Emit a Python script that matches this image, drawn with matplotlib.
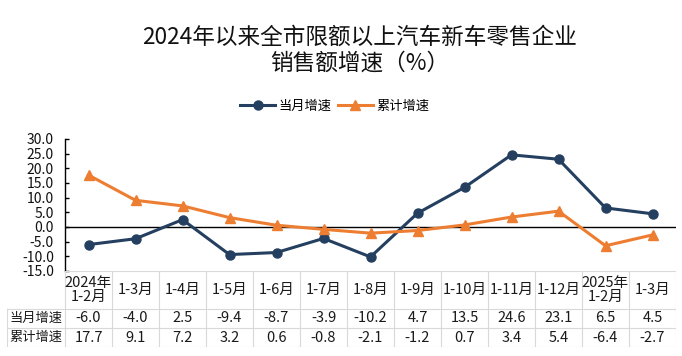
import matplotlib
matplotlib.use("Agg")
import matplotlib.pyplot as plt
from matplotlib.lines import Line2D

plt.rcParams['font.family'] = ['Noto Sans CJK SC', 'DejaVu Sans']
plt.rcParams['axes.unicode_minus'] = False

categories = ["2024年\n1-2月", "1-3月", "1-4月", "1-5月", "1-6月", "1-7月", "1-8月",
              "1-9月", "1-10月", "1-11月", "1-12月", "2025年\n1-2月", "1-3月"]
monthly = [-6.0, -4.0, 2.5, -9.4, -8.7, -3.9, -10.2, 4.7, 13.5, 24.6, 23.1, 6.5, 4.5]
cumulative = [17.7, 9.1, 7.2, 3.2, 0.6, -0.8, -2.1, -1.2, 0.7, 3.4, 5.4, -6.4, -2.7]
series_names = ["当月增速", "累计增速"]
yticks = [30.0, 25.0, 20.0, 15.0, 10.0, 5.0, 0.0, -5.0, -10.0, -15.0]

navy = '#243F60'
orange = '#ED7D31'
grid_c = '#D9D9D9'

W, H = 682, 356
fig = plt.figure(figsize=(W / 100, H / 100), dpi=100)

def px_rect(x0, y0, x1, y1):
    return [x0 / W, 1 - y1 / H, (x1 - x0) / W, (y1 - y0) / H]

# main axes
ax_l, ax_r, ax_t, ax_b = 65, 676, 139, 271
ax = fig.add_axes(px_rect(ax_l, ax_t, ax_r, ax_b))
n = len(categories)
x = list(range(n))
ax.plot(x, monthly, color=navy, lw=2.2, marker='o', ms=6.5, label=series_names[0], zorder=3)
ax.plot(x, cumulative, color=orange, lw=2.2, marker='^', ms=7.5, label=series_names[1], zorder=3)
ax.axhline(0, color='black', lw=1, zorder=2)
ax.set_xlim(-0.5, n - 0.5)
ax.set_ylim(-15, 30)
ax.set_yticks(yticks)
ax.set_yticklabels([f"{v:.1f}" for v in yticks], fontsize=10, color='#111111')
ax.tick_params(axis='y', direction='in', length=3, pad=8, width=1)
ax.set_xticks([])
for s in ['top', 'right', 'bottom']:
    ax.spines[s].set_visible(False)
ax.spines['left'].set_linewidth(1)
ax.patch.set_alpha(0)

# table axes
col_w = (ax_r - ax_l) / n
lab_x0 = 7
t_top, t_bot = 271, 347
head_h = 38
row_h = (t_bot - t_top - head_h) / 2
tax = fig.add_axes(px_rect(lab_x0, t_top, ax_r, t_bot))
tax.set_xlim(-0.5 - (ax_l - lab_x0) / col_w, n - 0.5)
tax.set_ylim(t_bot - t_top, 0)
tax.axis('off')

xl = -0.5 - (ax_l - lab_x0) / col_w
lw_t = 0.8
tax.plot([-0.5, n - 0.5], [0, 0], color=grid_c, lw=lw_t)
for yv in [head_h, head_h + row_h, head_h + 2 * row_h]:
    tax.plot([xl, n - 0.5], [yv, yv], color=grid_c, lw=lw_t)
for i in range(n + 1):
    tax.plot([i - 0.5, i - 0.5], [0, head_h + 2 * row_h], color=grid_c, lw=lw_t)
tax.plot([xl, xl], [head_h, head_h + 2 * row_h], color=grid_c, lw=lw_t)

txt_c = '#1a1a1a'
for i, c in enumerate(categories):
    tax.text(i, head_h / 2, c, ha='center', va='center', fontsize=10.5, color=txt_c, linespacing=0.95)
    tax.text(i, head_h + row_h / 2, f"{monthly[i]:.1f}", ha='center', va='center', fontsize=10.5, color=txt_c)
    tax.text(i, head_h + 1.5 * row_h, f"{cumulative[i]:.1f}", ha='center', va='center', fontsize=10.5, color=txt_c)
for k, name in enumerate(series_names):
    tax.text((xl - 0.5) / 2, head_h + (k + 0.5) * row_h, name, ha='center', va='center', fontsize=9.5, color=txt_c)

# title
fig.text(360 / W, 1 - 37 / H, "2024年以来全市限额以上汽车新车零售企业", ha='center', va='center',
         fontsize=16.3, color='#111111', weight='medium')
fig.text(360 / W, 1 - 63 / H, "销售额增速（%）", ha='center', va='center', fontsize=16.3,
         color='#111111', weight='medium')

# legend
handles = [Line2D([], [], color=navy, lw=2.2, marker='o', ms=6.5),
           Line2D([], [], color=orange, lw=2.2, marker='^', ms=7.5)]
fig.legend(handles, series_names, loc='center', bbox_to_anchor=(335 / W, 1 - 106 / H), ncol=2,
           frameon=False, fontsize=9.5, handlelength=2.6, columnspacing=0.5, handletextpad=0.3)

fig.savefig("out.png", dpi=100)
